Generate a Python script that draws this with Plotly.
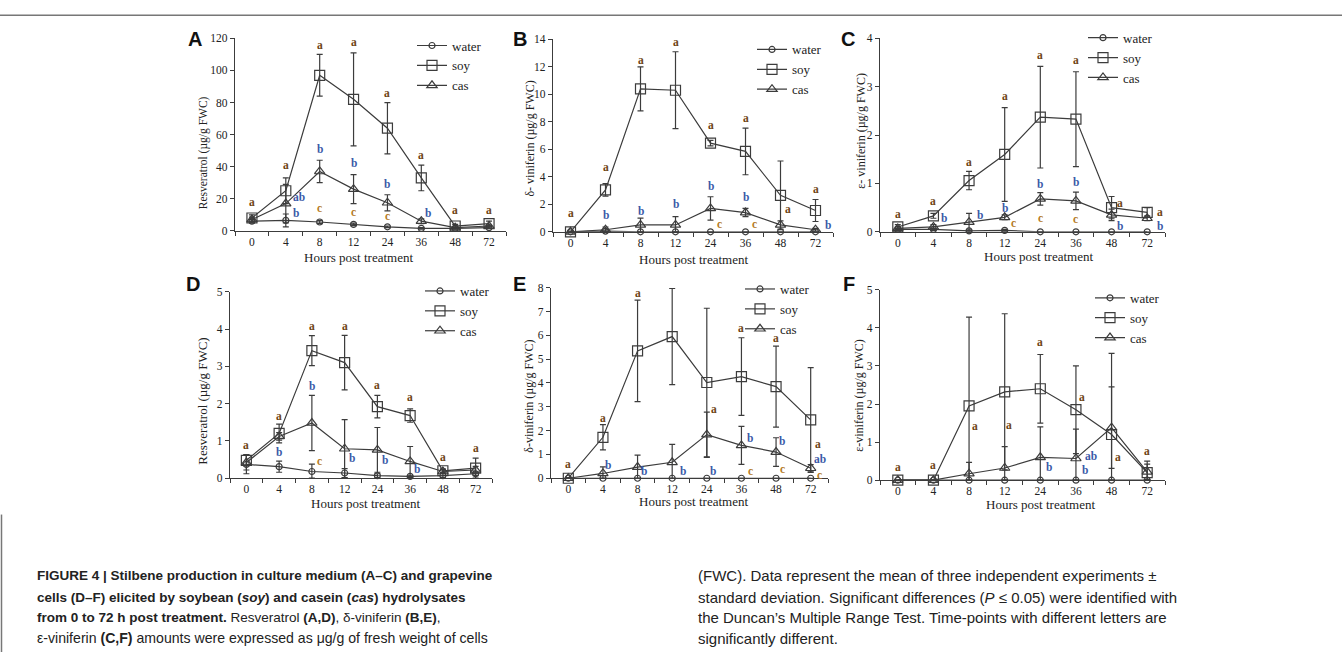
import plotly.graph_objects as go

W, H = 1342, 658

hours = ["0", "4", "8", "12", "24", "36", "48", "72"]

# Panel A - Resveratrol, culture medium
a_water = [6, 6.5, 5.5, 4, 2.5, 1.5, 1.5, 2]
a_water_sd = [1, 4, 1, 0.8, 0.5, 0.5, 0.5, 0.5]
a_soy = [8, 25, 97, 82, 64, 33, 3, 4.5]
a_soy_sd = [2, 8, 13, 29, 16, 8, 1, 1.5]
a_cas = [7, 17, 37, 26, 17.5, 6, 2, 3]
a_cas_sd = [1.5, 12, 7, 9, 5, 1.5, 0.5, 0.5]

# Panel B - delta-viniferin, culture medium
b_water = [0, 0.05, 0, 0, 0, 0, 0, 0]
b_water_sd = [0, 0, 0, 0, 0, 0, 0, 0]
b_soy = [0, 3.05, 10.4, 10.3, 6.45, 5.85, 2.65, 1.55]
b_soy_sd = [0.05, 0.45, 1.6, 2.8, 0.2, 1.7, 2.5, 0.8]
b_cas = [0, 0.15, 0.5, 0.5, 1.7, 1.4, 0.5, 0.15]
b_cas_sd = [0, 0.2, 0.5, 0.6, 0.85, 0.3, 0.3, 0.1]

# Panel C - epsilon-viniferin, culture medium
c_water = [0.05, 0.05, 0.02, 0.03, 0, 0, 0, 0]
c_water_sd = [0.02, 0.02, 0.02, 0.02, 0, 0, 0, 0]
c_soy = [0.1, 0.33, 1.06, 1.6, 2.37, 2.33, 0.5, 0.4]
c_soy_sd = [0.05, 0.05, 0.19, 0.97, 1.05, 0.98, 0.23, 0.1]
c_cas = [0.07, 0.1, 0.2, 0.3, 0.68, 0.64, 0.35, 0.28]
c_cas_sd = [0.03, 0.05, 0.18, 0.05, 0.13, 0.18, 0.12, 0.05]

# Panel D - Resveratrol, cells
d_water = [0.37, 0.31, 0.18, 0.14, 0.07, 0.05, 0.07, 0.12]
d_water_sd = [0.25, 0.15, 0.2, 0.12, 0.05, 0.03, 0.05, 0.05]
d_soy = [0.48, 1.2, 3.42, 3.1, 1.92, 1.68, 0.2, 0.27]
d_soy_sd = [0.15, 0.25, 0.4, 0.73, 0.3, 0.18, 0.05, 0.27]
d_cas = [0.42, 1.12, 1.48, 0.79, 0.76, 0.45, 0.18, 0.22]
d_cas_sd = [0.2, 0.1, 0.74, 0.78, 0.6, 0.4, 0.05, 0.1]

# Panel E - delta-viniferin, cells
e_water = [0, 0, 0, 0, 0, 0, 0, 0]
e_water_sd = [0, 0, 0, 0, 0, 0, 0, 0]
e_soy = [0, 1.72, 5.35, 5.95, 4.02, 4.27, 3.85, 2.45]
e_soy_sd = [0.03, 0.53, 2.13, 2.02, 3.12, 1.63, 1.7, 2.2]
e_cas = [0, 0.2, 0.47, 0.67, 1.83, 1.38, 1.1, 0.42]
e_cas_sd = [0, 0.28, 0.5, 0.75, 0.95, 0.8, 0.6, 0.15]

# Panel F - epsilon-viniferin, cells
f_water = [0, 0, 0, 0, 0, 0, 0, 0]
f_water_sd = [0, 0, 0, 0, 0, 0, 0, 0]
f_soy = [0, 0, 1.95, 2.32, 2.4, 1.85, 1.2, 0.2]
f_soy_sd = [0, 0, 2.33, 2.05, 0.9, 1.15, 2.13, 0.3]
f_cas = [0, 0, 0.17, 0.32, 0.6, 0.57, 1.38, 0.22]
f_cas_sd = [0, 0, 0.3, 0.56, 0.8, 0.77, 1.07, 0.2]

# significance letters: (position in category units, y value, text)
a_letters = [(0, 18, "a"), (1, 41, "a"), (1.4, 21, "ab"), (1.3, 11, "b"), (2, 116, "a"), (2, 51, "b"),
             (2, 14, "c"), (3, 118, "a"), (3, 42, "b"), (3, 11.5, "c"), (4, 86, "a"), (4, 29, "b"),
             (4, 9, "c"), (5, 47.5, "a"), (5.2, 11, "b"), (6, 13, "a"), (7, 13, "a")]
b_letters = [(0, 1.38, "a"), (1, 4.7, "a"), (1, 1.2, "b"), (2, 12.5, "a"), (2, 1.5, "b"), (3, 13.8, "a"),
             (3, 2.0, "b"), (4, 7.8, "a"), (4, 3.3, "b"), (4.25, 0.6, "c"), (5, 8.3, "a"), (5, 2.55, "b"),
             (5.25, 0.6, "c"), (6.2, 1.65, "a"), (7, 3.1, "a"), (7.35, 0.5, "b")]
c_letters = [(0, 0.37, "a"), (1, 0.63, "a"), (1.3, 0.28, "b"), (2, 1.44, "a"), (2.3, 0.34, "b"),
             (3, 2.81, "a"), (3, 0.5, "b"), (3.25, 0.19, "c"), (4, 3.66, "a"), (4, 0.98, "b"),
             (4, 0.28, "c"), (5, 3.55, "a"), (5, 1.02, "b"), (5, 0.27, "c"), (6.25, 0.59, "a"),
             (6.25, 0.13, "b"), (7.35, 0.4, "a"), (7.35, 0.12, "b")]
d_letters = [(0, 0.88, "a"), (1, 1.68, "a"), (1, 0.69, "b"), (2, 4.07, "a"), (2, 2.47, "b"),
             (2.22, 0.47, "c"), (3, 4.07, "a"), (3.22, 0.53, "b"), (4, 2.49, "a"), (4.22, 0.5, "b"),
             (5, 2.17, "a"), (5.22, 0.26, "b"), (6, 0.57, "a"), (7, 0.82, "a")]
e_letters = [(0, 0.59, "a"), (1, 2.51, "a"), (1.15, 0.56, "b"), (2, 7.8, "a"), (2.2, 0.29, "b"),
             (3, 8.25, "a"), (3.3, 0.3, "b"), (4.2, 2.92, "a"), (4.18, 0.3, "b"), (5, 6.32, "a"),
             (5.26, 1.71, "b"), (5.25, 0.3, "c"), (6, 5.87, "a"), (6.18, 1.55, "b"), (6.2, 0.37, "c"),
             (7.2, 1.45, "a"), (7.28, 0.8, "ab"), (7.26, 0.13, "c")]
f_letters = [(0, 0.34, "a"), (1, 0.41, "a"), (2.17, 1.42, "a"), (3.12, 1.44, "a"), (4, 3.63, "a"),
             (4.23, 0.34, "b"), (5.17, 2.19, "a"), (5.42, 0.64, "ab"), (5.26, 0.26, "b"),
             (6.18, 0.6, "a"), (7, 0.77, "a")]

y_titles = ["Resveratrol (µg/g FWC)", "δ- viniferin (µg/g FWC)", "ε- viniferin (µg/g FWC)",
            "Resveratrol (µg/g FWC)", "δ-viniferin (µg/g FWC)", "ε-viniferin (µg/g FWC)"]
y_max = [120, 14, 4, 5, 8, 5]
y_dtick = [20, 2, 1, 1, 1, 1]
panel_tags = ["A", "B", "C", "D", "E", "F"]

panels = [
    (a_water, a_water_sd, a_soy, a_soy_sd, a_cas, a_cas_sd, a_letters),
    (b_water, b_water_sd, b_soy, b_soy_sd, b_cas, b_cas_sd, b_letters),
    (c_water, c_water_sd, c_soy, c_soy_sd, c_cas, c_cas_sd, c_letters),
    (d_water, d_water_sd, d_soy, d_soy_sd, d_cas, d_cas_sd, d_letters),
    (e_water, e_water_sd, e_soy, e_soy_sd, e_cas, e_cas_sd, e_letters),
    (f_water, f_water_sd, f_soy, f_soy_sd, f_cas, f_cas_sd, f_letters),
]


# ---- layout geometry (page pixels -> paper fractions) ----
def px(x):
    return x / W


def py(y):
    return 1 - y / H


# plot boxes: x_left, x_right, y_top, y_bottom (page pixels)
boxes = [(235, 506, 33, 229), (553, 833, 34, 230), (880, 1165, 33, 230),
         (230, 492, 291, 481), (551, 828, 287, 481), (880, 1165, 289, 483)]
legend_pos = [(412, 25), (752, 29), (1083, 17), (420, 275), (740, 273), (1090, 282)]
tag_pos = [(195, 34), (520, 34), (848, 34), (193, 283), (519, 283), (849, 283)]
ytitle_pos = [(203, 150), (530, 135), (861, 127), (203, 403), (529, 398), (859, 397)]
ytitle_size = [11.5, 12, 12, 13, 12, 12]
xtitle_pos = [(358, 256), (694, 258), (1038, 255), (365, 507), (694, 505), (1040, 508)]

LINE = "#3c3c3c"
SERIF = "Liberation Serif"
letter_colors = {"a": "#6e4515", "b": "#3a5aa8", "ab": "#3a5aa8", "c": "#b47a25"}
symbols = {"water": ("circle-open", 6), "soy": ("square-open", 10), "cas": ("triangle-up-open", 9)}

fig = go.Figure()
annotations = []
layout = {}

for i, (wv, wsd, sv, ssd, cv, csd, letters) in enumerate(panels):
    n = i + 1
    xa = "x" if n == 1 else f"x{n}"
    ya = "y" if n == 1 else f"y{n}"
    lg = "legend" if n == 1 else f"legend{n}"
    for name, vals, sds in (("water", wv, wsd), ("soy", sv, ssd), ("cas", cv, csd)):
        sym, size = symbols[name]
        minus = [min(s, v) for s, v in zip(sds, vals)]
        fig.add_trace(go.Scatter(
            x=hours, y=vals, name=name, mode="lines+markers",
            xaxis=xa, yaxis=ya, legend=lg, cliponaxis=False,
            line=dict(color=LINE, width=1.2),
            marker=dict(symbol=sym, size=size, color=LINE, line=dict(color=LINE, width=1.2)),
            error_y=dict(type="data", array=sds, arrayminus=minus, color=LINE,
                         thickness=1.2, width=3, visible=True),
        ))
    x0, x1, yt, yb = boxes[i]
    kx = "xaxis" if n == 1 else f"xaxis{n}"
    ky = "yaxis" if n == 1 else f"yaxis{n}"
    layout[kx] = dict(
        domain=[px(x0), px(x1)], anchor=ya, type="category",
        categoryorder="array", categoryarray=hours, range=[-0.5, 7.5],
        showline=True, linecolor=LINE, linewidth=1.3, ticks="outside", tickson="boundaries",
        ticklen=4, tickcolor=LINE, tickwidth=1.2, showgrid=False, zeroline=False,
        tickfont=dict(family=SERIF, size=11.5, color="#222"),
    )
    layout[ky] = dict(
        domain=[py(yb), py(yt)], anchor=xa, range=[0, y_max[i]], dtick=y_dtick[i],
        showline=True, linecolor=LINE, linewidth=1.3, ticks="outside", ticklen=4,
        tickcolor=LINE, tickwidth=1.2, showgrid=False, zeroline=False,
        tickfont=dict(family=SERIF, size=11.5, color="#222"),
    )
    lx, ly = legend_pos[i]
    layout[lg] = dict(
        x=px(lx), y=py(ly), xanchor="left", yanchor="top", bgcolor="rgba(0,0,0,0)",
        font=dict(family=SERIF, size=13, color="#222"), itemwidth=30, tracegroupgap=0,
    )
    # significance letters
    for (lxp, lyp, txt) in letters:
        annotations.append(dict(
            x=lxp, y=lyp, xref=xa, yref=ya, text=f"<b>{txt}</b>", showarrow=False,
            font=dict(family=SERIF, size=11.5, color=letter_colors[txt]),
            xanchor="center", yanchor="middle",
        ))
    # panel tag
    tx, ty = tag_pos[i]
    annotations.append(dict(x=px(tx), y=py(ty), xref="paper", yref="paper",
                            text=f"<b>{panel_tags[i]}</b>", showarrow=False,
                            font=dict(family="Liberation Sans", size=20, color="#111"),
                            xanchor="center", yanchor="middle"))
    # axis titles
    yx, yy = ytitle_pos[i]
    annotations.append(dict(x=px(yx), y=py(yy), xref="paper", yref="paper", text=y_titles[i],
                            showarrow=False, textangle=-90,
                            font=dict(family=SERIF, size=ytitle_size[i], color="#222"),
                            xanchor="center", yanchor="middle"))
    xx, xy = xtitle_pos[i]
    annotations.append(dict(x=px(xx), y=py(xy), xref="paper", yref="paper",
                            text="Hours post treatment", showarrow=False,
                            font=dict(family=SERIF, size=13, color="#222"),
                            xanchor="center", yanchor="middle"))

# caption
caption_left = [
    "<b>FIGURE 4 | Stilbene production in culture medium (A–C) and grapevine</b>",
    "<b>cells (D–F) elicited by soybean (<i>soy</i>) and casein (<i>cas</i>) hydrolysates</b>",
    "<b>from 0 to 72 h post treatment.</b> Resveratrol <b>(A,D)</b>, δ-viniferin <b>(B,E)</b>,",
    "ε-viniferin <b>(C,F)</b> amounts were expressed as μg/g of fresh weight of cells",
]
caption_right = [
    "(FWC). Data represent the mean of three independent experiments ±",
    "standard deviation. Significant differences (<i>P</i> ≤ 0.05) were identified with",
    "the Duncan’s Multiple Range Test. Time-points with different letters are",
    "significantly different.",
]
cap_y = [580, 602, 623, 644]
left_sizes = [13.5, 13.5, 13.5, 14.1]
for k, t in enumerate(caption_left):
    annotations.append(dict(x=px(35), y=py(cap_y[k]), xref="paper", yref="paper", text=t,
                            showarrow=False, xanchor="left", yanchor="middle",
                            font=dict(family="Liberation Sans", size=left_sizes[k], color="#222")))
for k, t in enumerate(caption_right):
    annotations.append(dict(x=px(696), y=py(cap_y[k]), xref="paper", yref="paper", text=t,
                            showarrow=False, xanchor="left", yanchor="middle",
                            font=dict(family="Liberation Sans", size=15, color="#222")))

shapes = [
    dict(type="line", xref="paper", yref="paper", x0=0, x1=1, y0=py(9.5), y1=py(9.5),
         line=dict(color="#777", width=1.5)),
    dict(type="line", xref="paper", yref="paper", x0=px(1.5), x1=px(1.5), y0=py(518), y1=0,
         line=dict(color="#777", width=1.5)),
]

fig.update_layout(
    width=W, height=H, margin=dict(l=0, r=0, t=0, b=0),
    paper_bgcolor="white", plot_bgcolor="white", showlegend=True,
    annotations=annotations, shapes=shapes, **layout,
)

# place the figure flush with the page corner, no mode bar
fig.write_html("out.html", config={"displayModeBar": False},
               post_script="document.body.style.margin='0';document.body.style.overflow='hidden';")
